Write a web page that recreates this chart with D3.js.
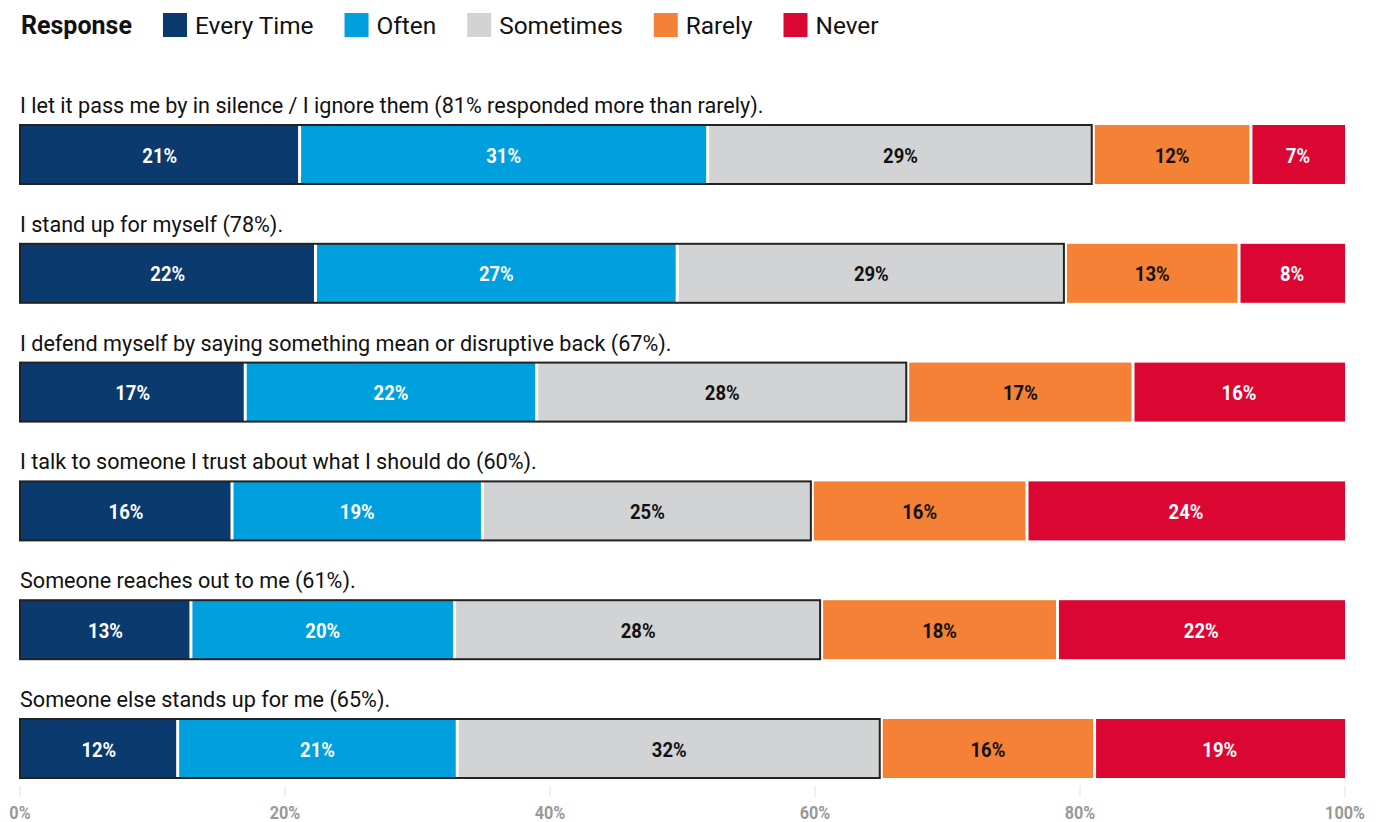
<!DOCTYPE html>
<html>
<head>
<meta charset="utf-8">
<script src="https://cdn.jsdelivr.net/npm/d3@7"></script>
<style>
body{margin:0;background:#fff;}
text{font-family:Roboto,"Noto Sans",sans-serif;}
</style>
</head>
<body>
<div id="chart"></div>
<script>
var width = 1383, height = 822

// data
var categories = [
  "I let it pass me by in silence / I ignore them (81% responded more than rarely).",
  "I stand up for myself (78%).",
  "I defend myself by saying something mean or disruptive back (67%).",
  "I talk to someone I trust about what I should do (60%).",
  "Someone reaches out to me (61%).",
  "Someone else stands up for me (65%)."
]
var responses = ["Every Time", "Often", "Sometimes", "Rarely", "Never"]
var everyTime = [21.1, 22.3, 17.0, 16.0, 12.9, 11.9]
var often     = [30.8, 27.3, 22.0, 18.9, 19.9, 21.1]
var sometimes = [29.1, 29.3, 28.0, 24.9, 27.7, 32.0]
var rarely    = [11.9, 13.1, 17.0, 16.2, 17.8, 16.1]
var never     = [7.1, 8.0, 16.0, 24.0, 21.7, 18.9]
var ticks = [0, 20, 40, 60, 80, 100]

var colors = ["#0b3a6e", "#00a0df", "#d1d3d4", "#f48135", "#dc0632"]
var textColors = ["#fff", "#fff", "#111", "#111", "#fff"]

var series = [everyTime, often, sometimes, rarely, never]
var rows = categories.map(function(c, i) {
  var row = {label: c}
  responses.forEach(function(r, j) { row[r] = series[j][i] })
  return row
})
var stacked = d3.stack().keys(responses)(rows)

var svg = d3.select("#chart").append("svg")
  .attr("width", width)
  .attr("height", height)

var x = d3.scaleLinear().domain([0, 100]).range([20, 1345])
// bar height ~59, one row every ~118.8px
var barH = 59
var y = d3.scalePoint().domain(d3.range(categories.length)).range([125, 125 + 5 * 118.8])
function rowTop(i) { return y(i) }

// legend
var legend = svg.append("g").attr("transform", "translate(21,0)")
legend.append("text")
  .attr("x", 0).attr("y", 34)
  .attr("font-size", 25).attr("font-weight", 700).attr("fill", "#111")
  .text("Response")
var lx = 142
responses.forEach(function(r, j) {
  var g = legend.append("g").attr("transform", "translate(" + lx + ",0)")
  g.append("rect").attr("x", 0).attr("y", 13).attr("width", 24).attr("height", 24)
    .attr("fill", colors[j])
  var t = g.append("text").attr("x", 32).attr("y", 34)
    .attr("font-size", 24.4).attr("fill", "#111").text(r)
  lx += 32 + t.node().getComputedTextLength() + 31
})

// axis ticks
var axis = svg.append("g")
axis.selectAll("line").data(ticks).enter().append("line")
  .attr("x1", function(d) { return x(d) }).attr("x2", function(d) { return x(d) })
  .attr("y1", 786).attr("y2", 797)
  .attr("stroke", "#e2e2e2").attr("stroke-width", 1)
axis.selectAll("text").data(ticks).enter().append("text")
  .attr("transform", function(d) { return "translate(" + x(d) + ",818.5) scale(0.9,1)" })
  .attr("text-anchor", "middle")
  .attr("font-size", 18).attr("font-weight", 700).attr("fill", "#999")
  .text(function(d) { return d + "%" })

// row labels
svg.append("g").selectAll("text").data(categories).enter().append("text")
  .attr("x", 20).attr("y", function(d, i) { return rowTop(i) - 12 })
  .attr("font-size", 21.6).attr("fill", "#111")
  .text(function(d) { return d })

// segments
var gap = 1.5
var layers = svg.append("g").selectAll("g").data(stacked).enter().append("g")
layers.each(function(layer, j) {
  var g = d3.select(this)
  g.selectAll("rect").data(layer).enter().append("rect")
    .attr("x", function(d) { return x(d[0]) + (d[0] > 0 ? gap : 0) })
    .attr("y", function(d, i) { return rowTop(i) })
    .attr("width", function(d) {
      var x0 = x(d[0]) + (d[0] > 0 ? gap : 0)
      var x1 = x(d[1]) - (d[1] < 99.95 ? gap : 0)
      return x1 - x0
    })
    .attr("height", barH)
    .attr("fill", colors[j])
  g.selectAll("text").data(layer).enter().append("text")
    .attr("transform", function(d, i) {
      return "translate(" + (x(d[0]) + x(d[1])) / 2 + "," + (rowTop(i) + 37.5) + ") scale(0.88,1)"
    })
    .attr("text-anchor", "middle")
    .attr("font-size", 21).attr("font-weight", 700)
    .attr("fill", textColors[j])
    .text(function(d) { return Math.round(d[1] - d[0]) + "%" })
})

// outline around the "more than rarely" group
var top3 = stacked[2]
svg.append("g").selectAll("rect").data(top3).enter().append("rect")
  .attr("x", x(0))
  .attr("y", function(d, i) { return rowTop(i) })
  .attr("width", function(d) { return x(d[1]) - gap - x(0) })
  .attr("height", barH)
  .attr("fill", "none")
  .attr("stroke", "#222")
  .attr("stroke-width", 2)
</script>
</body>
</html>
